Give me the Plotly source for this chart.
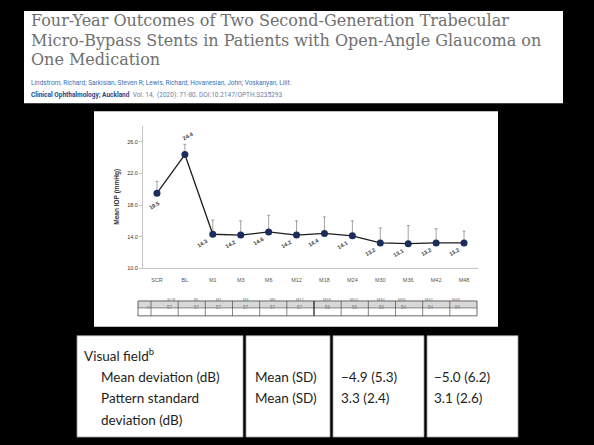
import plotly.graph_objects as go

W, H = 594, 445
def X(px): return px / W
def Y(py): return 1 - py / H

# ---------------- data ----------------
categories = ["SCR", "BL", "M1", "M3", "M6", "M12", "M18", "M24", "M30", "M36", "M42", "M48"]
mean_iop = [19.5, 24.4, 14.3, 14.2, 14.6, 14.2, 14.4, 14.1, 13.2, 13.1, 13.2, 13.2]
sd_upper = [1.5, 1.3, 1.8, 1.8, 2.1, 1.8, 2.1, 1.9, 1.9, 2.3, 1.8, 1.5]
n_values = [57, 57, 57, 57, 57, 57, 56, 56, 56, 54, 54, 54]
y_ticks = [10, 14, 18, 22, 26]

title_lines = [
    "Four-Year Outcomes of Two Second-Generation Trabecular",
    "Micro-Bypass Stents in Patients with Open-Angle Glaucoma on",
    "One Medication",
]
authors = "Lindstrom, Richard; Sarkisian, Steven R; Lewis, Richard; Hovanesian, John; Voskanyan, Lilit."
journal = "Clinical Ophthalmology; Auckland"
citation = "Vol. 14,  (2020): 71-80. DOI:10.2147/OPTH.S235293"

vf_rows = ["Visual field<sup>b</sup>", "Mean deviation (dB)", "Pattern standard", "deviation (dB)"]
vf_stat = ["Mean (SD)", "Mean (SD)"]
vf_group1 = ["\u22124.9 (5.3)", "3.3 (2.4)"]
vf_group2 = ["\u22125.0 (6.2)", "3.1 (2.6)"]

fig = go.Figure()

# main line with upper error bars
fig.add_trace(go.Scatter(
    x=categories, y=mean_iop, mode="lines+markers",
    line=dict(color="#1e1e1e", width=1.3),
    marker=dict(color="#1b2d5c", size=7),
    error_y=dict(type="data", array=sd_upper, arrayminus=[0] * len(sd_upper),
                 symmetric=False, color="#8a8a8a", thickness=0.8, width=1.5),
    showlegend=False, hoverinfo="skip",
))

shapes = []
ann = []
# white boxes
shapes.append(dict(type="rect", xref="paper", yref="paper", x0=X(24), x1=X(563), y0=Y(104), y1=Y(11),
                   fillcolor="white", line=dict(width=0), layer="below"))
shapes.append(dict(type="rect", xref="paper", yref="paper", x0=X(94), x1=X(498), y0=Y(329), y1=Y(112),
                   fillcolor="white", line=dict(width=0), layer="below"))
for x0, x1 in [(77, 243), (246, 330), (333, 424), (427, 518)]:
    shapes.append(dict(type="rect", xref="paper", yref="paper", x0=X(x0), x1=X(x1), y0=Y(440), y1=Y(338),
                       fillcolor="white", line=dict(color="#9a9a9a", width=0.8), layer="below"))

# n table under the chart (drawn as a grid)
tl, tr, t_first = 138, 477, 151
t_top, t_mid, t_bot = 303, 310, 318
col_w = (tr - t_first) / len(categories)
shapes.append(dict(type="rect", xref="paper", yref="paper", x0=X(tl), x1=X(tr), y0=Y(t_mid), y1=Y(t_top),
                   fillcolor="#d8d8d8", line=dict(width=0)))
shapes.append(dict(type="rect", xref="paper", yref="paper", x0=X(tl), x1=X(tr), y0=Y(t_bot), y1=Y(t_top),
                   fillcolor="rgba(0,0,0,0)", line=dict(color="#444", width=0.8)))
shapes.append(dict(type="line", xref="paper", yref="paper", x0=X(tl), x1=X(tr), y0=Y(t_mid), y1=Y(t_mid),
                   line=dict(color="#444", width=0.6)))
edges = [t_first + col_w * k for k in range(len(categories))]
for k, ex in enumerate(edges):
    shapes.append(dict(type="line", xref="paper", yref="paper", x0=X(ex), x1=X(ex), y0=Y(t_bot), y1=Y(t_top),
                       line=dict(color="#333", width=1.4 if k == 6 else 0.6)))
nfont = dict(family="Arial", size=4.5, color="#777")
ann.append(dict(text="n", xref="paper", yref="paper", x=X((tl + t_first) / 2), y=Y((t_mid + t_bot) / 2),
                showarrow=False, font=nfont))
for k, (c, n) in enumerate(zip(categories, n_values)):
    cx = X(t_first + col_w * (k + 0.5))
    ann.append(dict(text=c, xref="paper", yref="paper", x=cx, y=Y((t_top + t_mid) / 2),
                    showarrow=False, font=dict(family="Arial", size=4, color="#777")))
    ann.append(dict(text=str(n), xref="paper", yref="paper", x=cx, y=Y((t_mid + t_bot) / 2),
                    showarrow=False, font=nfont))

# title
for i, t in enumerate(title_lines):
    ann.append(dict(text=t, xref="paper", yref="paper", x=X(29), y=Y(21 + 19.5 * i),
                    xanchor="left", yanchor="middle", showarrow=False,
                    font=dict(family="DejaVu Serif", size=16, color="#707070")))
ann.append(dict(text=authors, xref="paper", yref="paper", x=X(29), y=Y(84), xanchor="left", yanchor="middle",
                showarrow=False, font=dict(family="Roboto", size=6.5, color="#3f6fb5")))
ann.append(dict(text="<b>" + journal + "</b>  <span style='color:#6a7fa8'>" + citation + "</span>",
                xref="paper", yref="paper", x=X(29), y=Y(96), xanchor="left", yanchor="middle",
                showarrow=False, font=dict(family="Roboto", size=6.5, color="#234a8c")))

# y axis title
ann.append(dict(text="<b>Mean IOP (mmHg)</b>", xref="paper", yref="paper", x=X(111), y=Y(198),
                textangle=-90, showarrow=False, font=dict(family="Arial", size=6.5, color="#333")))

# data labels
for i, (c, v) in enumerate(zip(categories, mean_iop)):
    if i == 0:
        xs, ys = -2, -12
    elif i == 1:
        xs, ys = 3, 19
    else:
        xs, ys = -10, -9
    ann.append(dict(text="<b>%.1f</b>" % v, x=c, y=v, xref="x", yref="y", xshift=xs, yshift=ys,
                    textangle=-30, showarrow=False, font=dict(family="Arial", size=5.5, color="#3a3a3a")))

# bottom table text
tfont = dict(family="Lato", size=13.5, color="#1e1e1e")
row_y = [357, 380, 401, 423]
for i, t in enumerate(vf_rows):
    ann.append(dict(text=t, xref="paper", yref="paper", x=X(82 if i == 0 else 99), y=Y(row_y[i]),
                    xanchor="left", yanchor="middle", showarrow=False, font=tfont))
for i in range(2):
    ann.append(dict(text=vf_stat[i], xref="paper", yref="paper", x=X(253), y=Y(row_y[i + 1]),
                    xanchor="left", yanchor="middle", showarrow=False, font=tfont))
    ann.append(dict(text=vf_group1[i], xref="paper", yref="paper", x=X(339), y=Y(row_y[i + 1]),
                    xanchor="left", yanchor="middle", showarrow=False, font=tfont))
    ann.append(dict(text=vf_group2[i], xref="paper", yref="paper", x=X(432), y=Y(row_y[i + 1]),
                    xanchor="left", yanchor="middle", showarrow=False, font=tfont))

fig.update_layout(
    width=W, height=H, autosize=False,
    margin=dict(l=0, r=0, t=0, b=0),
    paper_bgcolor="black", plot_bgcolor="white",
    shapes=shapes, annotations=ann,
    xaxis=dict(domain=[X(143), X(478)], type="category", range=[-0.5, 11.5],
               showline=True, linecolor="#c4c4c4", linewidth=1, showgrid=False, zeroline=False,
               ticks="outside", ticklen=6, tickcolor="rgba(0,0,0,0)",
               tickfont=dict(family="Arial", size=5.5, color="#555")),
    yaxis=dict(domain=[Y(270), Y(127)], range=[10, 28], tickvals=y_ticks, tickformat=".1f",
               showline=True, linecolor="#c4c4c4", linewidth=1, showgrid=False, zeroline=False,
               ticks="outside", ticklen=3, tickcolor="#c4c4c4",
               tickfont=dict(family="Arial", size=5.5, color="#333")),
)

fig.write_html("out.html", config={"displayModeBar": False},
               post_script="document.body.style.margin='0';document.body.style.background='black';")
